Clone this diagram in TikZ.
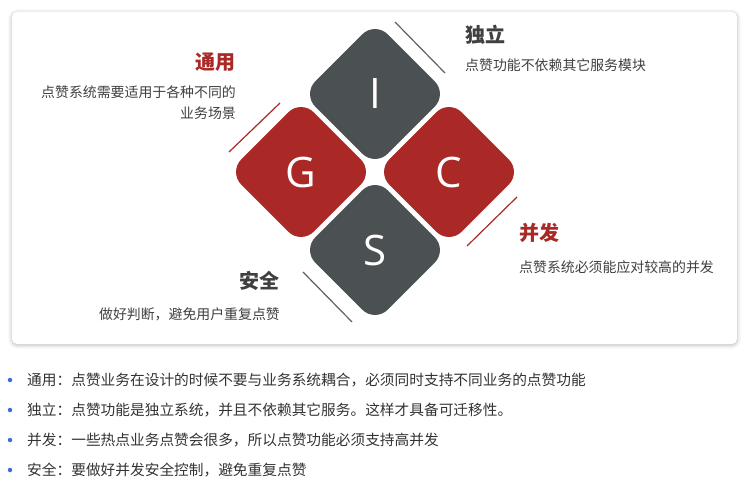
\documentclass[tikz,border=0pt]{standalone}
\usepackage{fontspec}
\setmainfont{Noto Sans CJK SC}
\newfontfamily\letrafont{Open Sans}
\usepackage{xcolor}
\usepackage{tikz}
\usetikzlibrary{shapes.geometric,calc,positioning,shadows.blur}
\definecolor{cinza}{HTML}{4B5152}
\definecolor{vermelho}{HTML}{AA2926}
\definecolor{texto}{HTML}{404040}
\definecolor{azul}{HTML}{3B6BE0}
\tikzset{
    losango/.style={
        diamond,
        aspect=1,
        inner sep=0pt,
        minimum size=145pt,
        rounded corners=18pt,
        text=white,
        font=\letrafont\fontsize{42}{42}\selectfont
    },
    losangoCinza/.style={losango, fill=cinza},
    losangoVermelho/.style={losango, fill=vermelho},
    titulo/.style={inner sep=0pt, text=texto, font=\bfseries\fontsize{20}{24}\selectfont},
    tituloVermelho/.style={titulo, text=vermelho},
    descricao/.style={inner sep=0pt, text=texto, font=\fontsize{13.9}{21}\selectfont},
    traco/.style={line width=1.2pt, cinza!90},
    tracoVermelho/.style={traco, vermelho},
    marcador/.style={circle, fill=azul, inner sep=0pt, minimum size=4.5pt},
    item/.style={inner sep=0pt, anchor=west, text=black!80, font=\fontsize{14.7}{18}\selectfont}
}

\begin{document}
\begin{tikzpicture}[x=1pt, y=-1pt]
    \useasboundingbox (0,0) rectangle (745,487);

    % cartao
    \fill[white, rounded corners=5pt,
        blur shadow={shadow xshift=0pt, shadow yshift=-1pt, shadow blur radius=4pt, shadow opacity=30}]
        (12,12) rectangle (737,344);

    % losangos
    \node[losangoCinza] (I) at (375,94) {I};
    \node[losangoVermelho] (G) at (301,172) {G};
    \node[losangoVermelho] (C) at (449,172) {C};
    \node[losangoCinza] (S) at (375,250) {S};

    \draw[traco] ($(I)+(20,-72)$) -- ($(I)+(70,-21)$);
    \draw[tracoVermelho] ($(G)+(-21,-69)$) -- ($(G)+(-72,-20)$);
    \draw[tracoVermelho] ($(C)+(68,25)$) -- ($(C)+(18,74)$);
    \draw[traco] ($(S)+(-72,22)$) -- ($(S)+(-23,72)$);

    % textos
    \node[titulo, anchor=west] (tituloI) at (465,35) {独立};
    \node[descricao, anchor=west] (descI) at (465,65) {点赞功能不依赖其它服务模块};

    \node[tituloVermelho, anchor=east] (tituloG) at (236,62) {通用};
    \node[descricao, anchor=east, align=right] (descG) at (236,102.5) {点赞系统需要适用于各种不同的\\业务场景};

    \node[tituloVermelho, anchor=west] (tituloC) at (519,233) {并发};
    \node[descricao, anchor=west] (descC) at (519,267) {点赞系统必须能应对较高的并发};

    \node[titulo, anchor=east] (tituloS) at (280,281) {安全};
    \node[descricao, anchor=east] (descS) at (280,314) {做好判断，避免用户重复点赞};

    % lista
    \foreach \t [count=\i] in {
        {通用：点赞业务在设计的时候不要与业务系统耦合，必须同时支持不同业务的点赞功能},
        {独立：点赞功能是独立系统，并且不依赖其它服务。这样才具备可迁移性。},
        {并发：一些热点业务点赞会很多，所以点赞功能必须支持高并发},
        {安全：要做好并发安全控制，避免重复点赞}}
    {
        \node[marcador] (marcador\i) at (10,{350+30*\i}) {};
        \node[item] (item\i) at (27,{350+30*\i}) {\t};
    }
\end{tikzpicture}
\end{document}
